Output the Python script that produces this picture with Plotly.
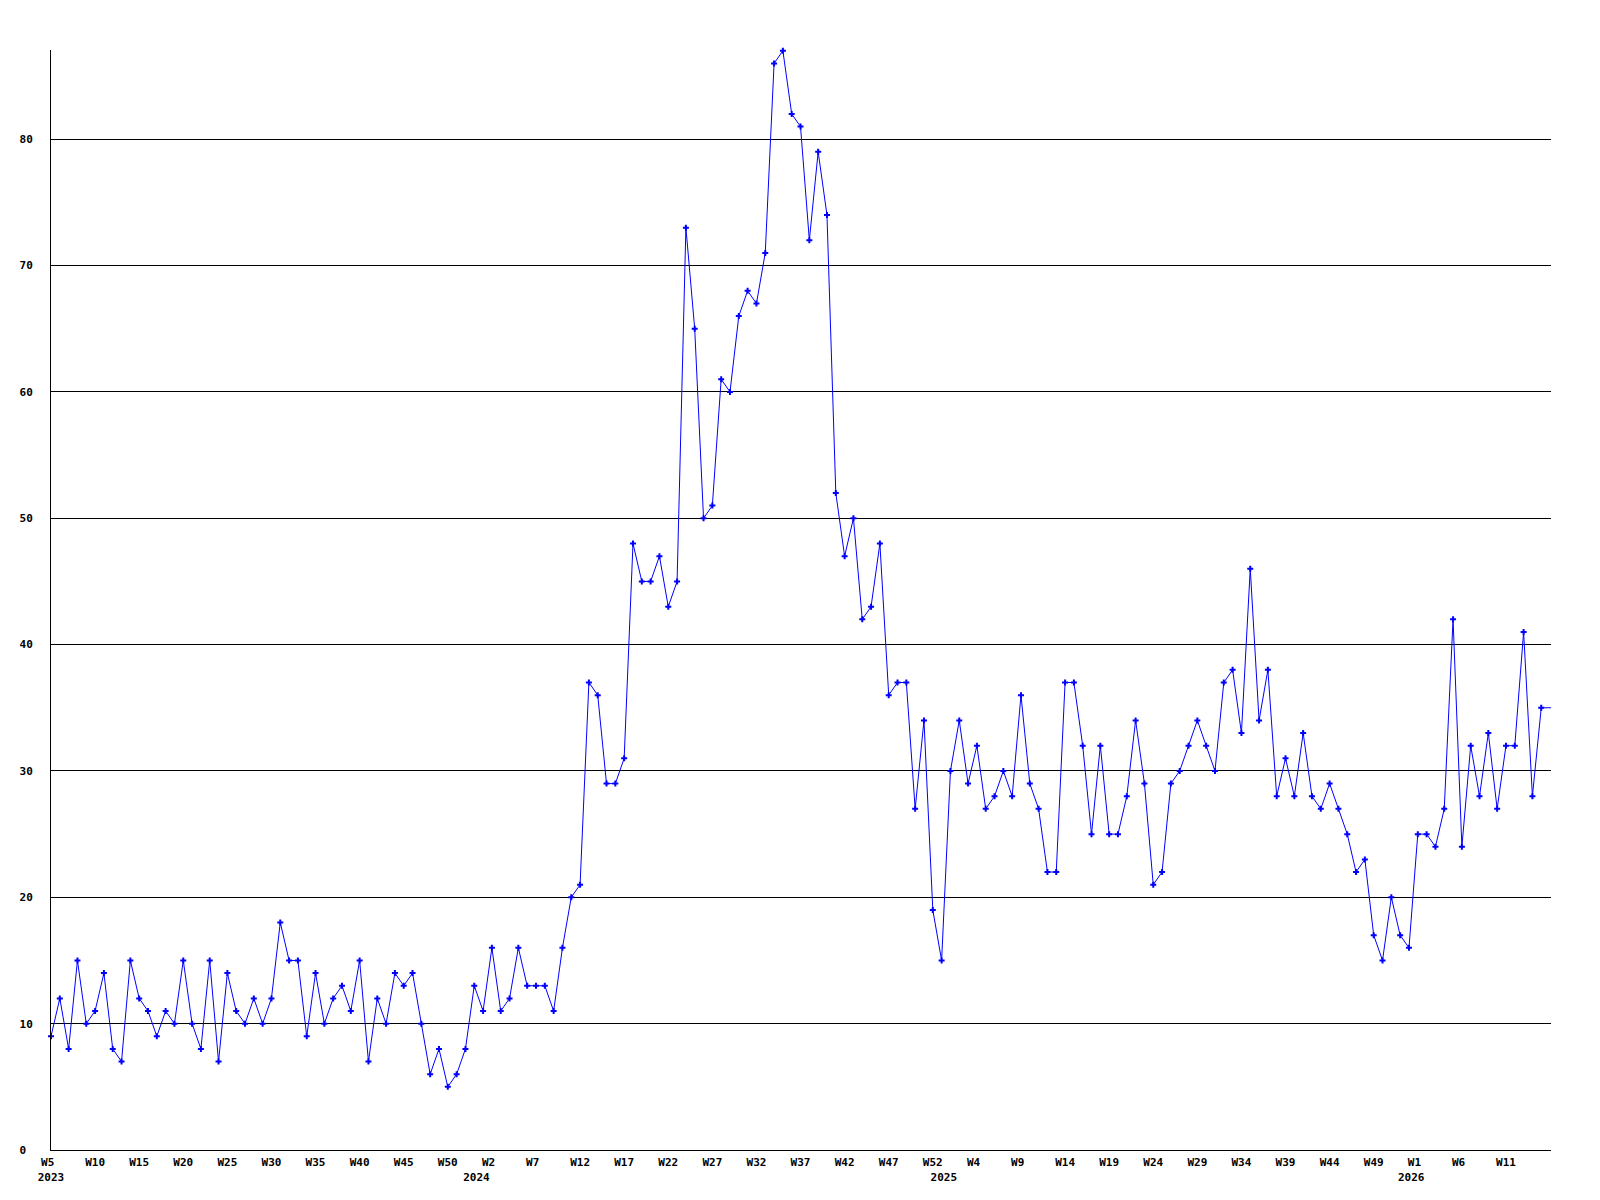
import plotly.graph_objects as go

# Weekly values, starting at W5 2023 (one per week)
values = [
    9, 12, 8, 15, 10, 11, 14, 8, 7, 15,
    12, 11, 9, 11, 10, 15, 10, 8, 15, 7,
    14, 11, 10, 12, 10, 12, 18, 15, 15, 9,
    14, 10, 12, 13, 11, 15, 7, 12, 10, 14,
    13, 14, 10, 6, 8, 5, 6, 8, 13, 11,
    16, 11, 12, 16, 13, 13, 13, 11, 16, 20,
    21, 37, 36, 29, 29, 31, 48, 45, 45, 47,
    43, 45, 73, 65, 50, 51, 61, 60, 66, 68,
    67, 71, 86, 87, 82, 81, 72, 79, 74, 52,
    47, 50, 42, 43, 48, 36, 37, 37, 27, 34,
    19, 15, 30, 34, 29, 32, 27, 28, 30, 28,
    36, 29, 27, 22, 22, 37, 37, 32, 25, 32,
    25, 25, 28, 34, 29, 21, 22, 29, 30, 32,
    34, 32, 30, 37, 38, 33, 46, 34, 38, 28,
    31, 28, 33, 28, 27, 29, 27, 25, 22, 23,
    17, 15, 20, 17, 16, 25, 25, 24, 27, 42,
    24, 32, 28, 33, 27, 32, 32, 41, 28, 35,
]

# Week tick labels (every 5th week) and year labels with their week index
week_tick_labels = ["W5", "W10", "W15", "W20", "W25", "W30", "W35", "W40", "W45", "W50",
                    "W2", "W7", "W12", "W17", "W22", "W27", "W32", "W37", "W42", "W47",
                    "W52", "W4", "W9", "W14", "W19", "W24", "W29", "W34", "W39", "W44",
                    "W49", "W1", "W6", "W11"]
week_tick_step = 5
year_labels = ["2023", "2024", "2025", "2026"]
year_positions = [0, 49, 102, 155]

y_ticks = [0, 10, 20, 30, 40, 50, 60, 70, 80]

NB = "\u00a0"
n = len(values)
x = list(range(n))

# Build combined tick labels
ticks = {}
for i, lab in enumerate(week_tick_labels):
    pos = i * week_tick_step
    ticks[pos] = [lab + (NB if len(lab) < 3 else ""), NB]
for yl, pos in zip(year_labels, year_positions):
    pad = "" if pos == 0 else NB * 2
    if pos in ticks:
        ticks[pos][1] = yl + pad
    else:
        ticks[pos] = [NB, yl + pad]
tickvals = sorted(ticks)
ticktext = [ticks[p][0] + "<br>" + ticks[p][1] for p in tickvals]

blue = "#0000ff"
font = dict(family="DejaVu Sans Mono", size=11, color="black", weight="bold")

fig = go.Figure()
fig.add_trace(go.Scatter(
    x=[n - 1, n + 1], y=[values[-1], values[-1]],
    mode="lines", line=dict(color=blue, width=1), hoverinfo="skip",
    showlegend=False,
))
fig.add_trace(go.Scatter(
    x=x, y=values, mode="lines+markers",
    line=dict(color=blue, width=1),
    marker=dict(symbol="cross", size=5, color=blue, line=dict(width=0)),
    cliponaxis=False, showlegend=False,
))

fig.update_layout(
    width=1600, height=1200,
    margin=dict(l=43, r=57, t=42, b=58, autoexpand=False),
    paper_bgcolor="white", plot_bgcolor="white",
    font=font,
    showlegend=False,
)
fig.update_xaxes(
    range=[0, 1500 / 8.818],
    tickmode="array", tickvals=tickvals, ticktext=ticktext,
    tickangle=0, automargin=False,
    showgrid=False, zeroline=False,
    showline=True, linecolor="black", linewidth=1,
    ticks="", tickfont=font, ticklabelstandoff=2,
)
fig.update_yaxes(
    range=[0, 87.06], automargin=False,
    tickmode="array", tickvals=y_ticks,
    ticktext=[(str(v) + NB if v < 10 else str(v)) for v in y_ticks],
    showgrid=True, gridcolor="black", gridwidth=1,
    zeroline=False,
    showline=True, linecolor="black", linewidth=1,
    ticks="", tickfont=font, ticklabelstandoff=15,
)

fig.write_html("out.html")
